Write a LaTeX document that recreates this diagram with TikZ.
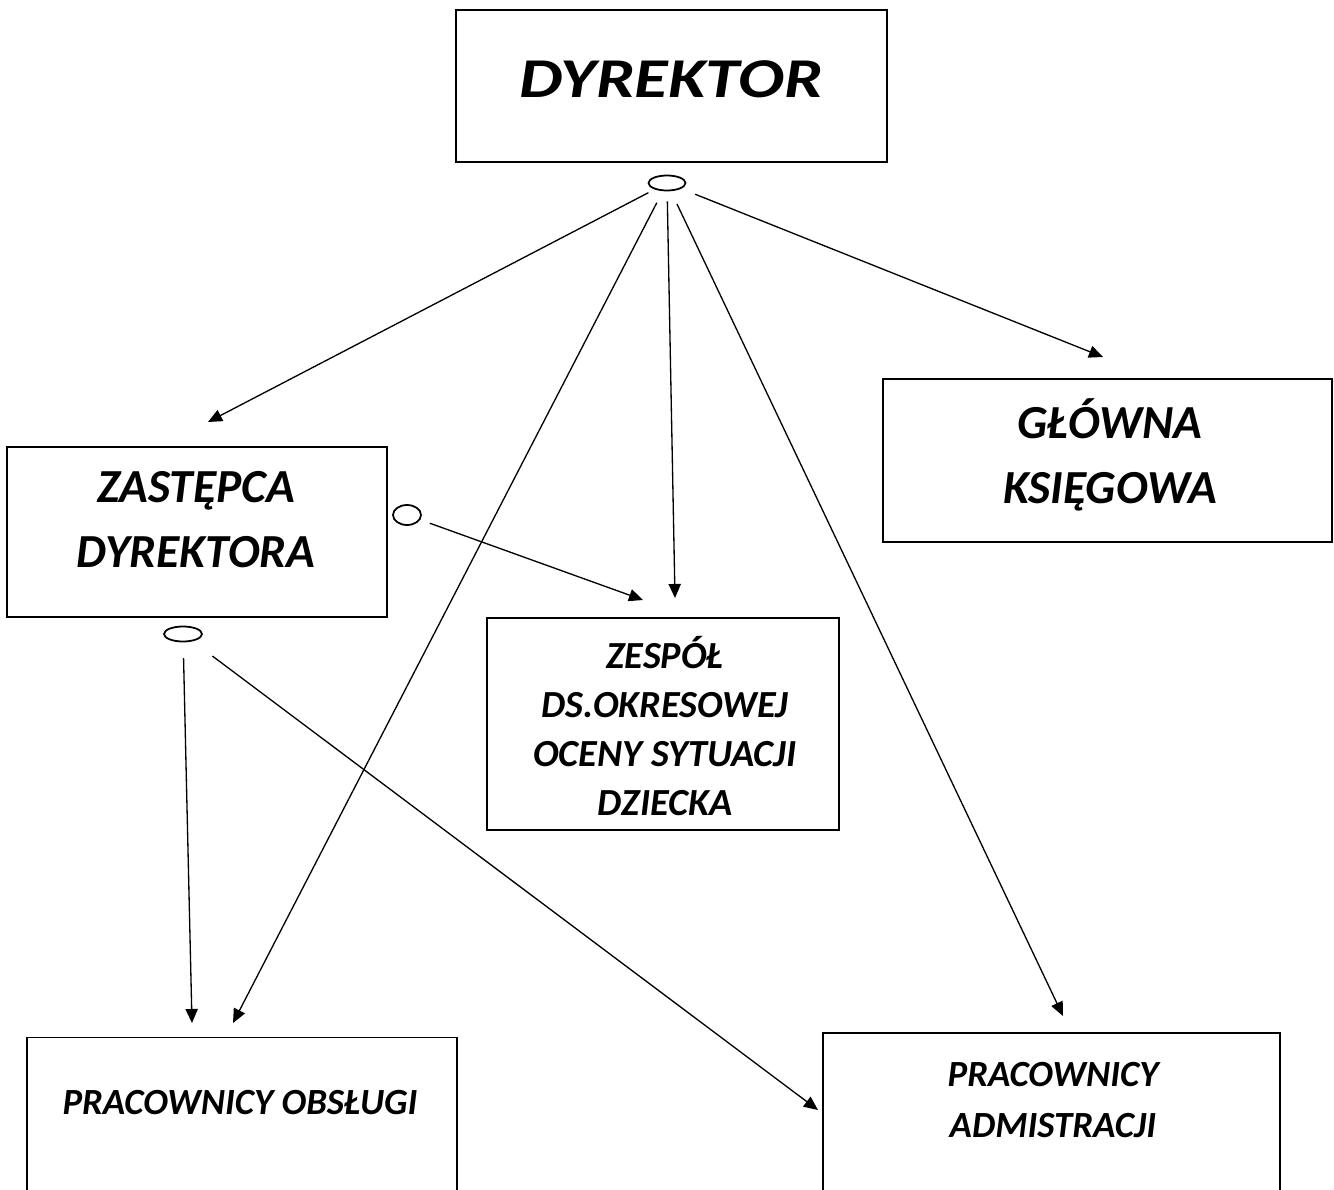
\documentclass[tikz,border=0pt]{standalone}
\usepackage{fontspec}
\setmainfont{Carlito}
\usetikzlibrary{shapes.geometric,arrows.meta}

\begin{document}
\begin{tikzpicture}[x=0.02cm, y=-0.02cm,
  box/.style={draw, rectangle, line width=1pt, inner sep=0pt},
  oval/.style={draw, ellipse, line width=1pt, inner sep=0pt},
  txt/.style 2 args={align=center, inner sep=0pt, font=\fontsize{#1}{#2}\selectfont\bfseries\itshape},
  arr/.style={-{Triangle[length=8pt,width=7pt]}, line width=0.75pt}
]
  \useasboundingbox (0,0) rectangle (1334,1189);

  % ramki
  \node[box, minimum width=8.62cm, minimum height=3.04cm] (dyr) at (671.5,86) {};
  \node[box, minimum width=8.98cm, minimum height=3.26cm] (glow) at (1107.5,460.5) {};
  \node[box, minimum width=7.6cm, minimum height=3.4cm] (zas) at (197,532) {};
  \node[box, minimum width=7.04cm, minimum height=4.24cm] (zes) at (663,724) {};
  \node[box, minimum width=8.6cm, minimum height=3.3cm] (obs) at (242,1120) {};
  \node[box, minimum width=9.14cm, minimum height=3.4cm] (adm) at (1051.5,1118) {};

  % napisy
  \node[txt={32}{36}] (dyrT) at (671,79) {\scalebox{1.22}[1]{DYREKTOR}};
  \node[txt={27}{37}] (glowT) at (1110,455) {GŁÓWNA\\KSIĘGOWA};
  \node[txt={27}{37}] (zasT) at (196,520) {ZASTĘPCA\\DYREKTORA};
  \node[txt={21.8}{28}] (zesT) at (665,726) {ZESPÓŁ\\DS.OKRESOWEJ\\OCENY SYTUACJI\\DZIECKA};
  \node[txt={21}{28}] (obsT) at (240,1103) {PRACOWNICY OBSŁUGI};
  \node[txt={21}{28.5}] (admT) at (1053,1100) {PRACOWNICY\\ADMISTRACJI};

  % owale
  \node[oval, minimum width=0.74cm, minimum height=0.3cm] (o1) at (667,183) {};
  \node[oval, minimum width=0.56cm, minimum height=0.4cm] (o2) at (407,515) {};
  \node[oval, minimum width=0.76cm, minimum height=0.3cm] (o3) at (183,634) {};

  % konce strzalek
  \coordinate (zasIn) at (208,422);
  \coordinate (glowIn) at (1103,357);
  \coordinate (zesInA) at (643,600);
  \coordinate (zesInB) at (675,598);
  \coordinate (obsInA) at (192,1023);
  \coordinate (obsInB) at (233,1023);
  \coordinate (admInA) at (818,1110);
  \coordinate (admInB) at (1063,1016);

  \draw[arr, shorten <=4pt] (o1) -- (zasIn);
  \draw[arr, shorten <=7.4pt] (o1) -- (obsInB);
  \draw[arr, shorten <=5.7pt] (o1) -- (zesInB);
  \draw[arr, shorten <=8pt] (o1) -- (admInB);
  \draw[arr, shorten <=8.5pt] (o1) -- (glowIn);
  \draw[arr, shorten <=5.7pt] (o2) -- (zesInA);
  \draw[arr, shorten <=9pt] (o3) -- (obsInA);
  \draw[arr, shorten <=14pt] (o3) -- (admInA);
\end{tikzpicture}
\end{document}
